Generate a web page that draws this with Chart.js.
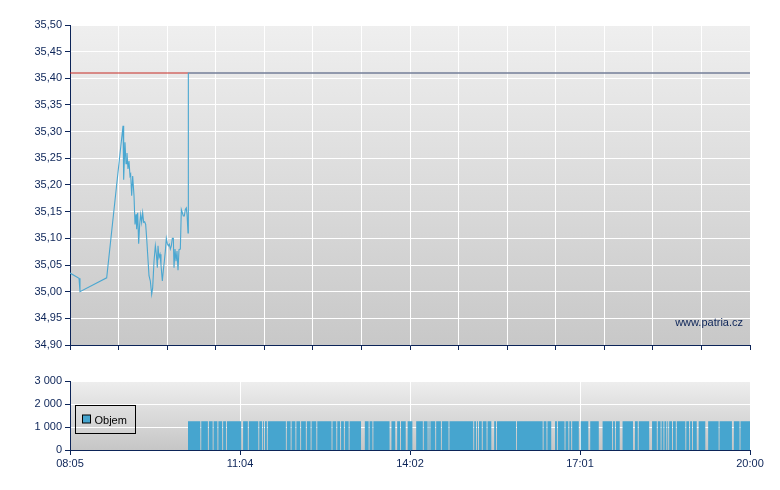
<!DOCTYPE html>
<html>
<head>
<meta charset="utf-8">
<script src="https://cdn.jsdelivr.net/npm/chart.js@4.4.1/dist/chart.umd.min.js"></script>
<style>
body { margin: 0; background: #fff; }
#wrap { position: relative; width: 780px; height: 490px; }
#price { position: absolute; left: 0; top: 0; }
#volume { position: absolute; left: 0; top: 360px; }
</style>
</head>
<body>
<div id="wrap">
<canvas id="price" width="780" height="355"></canvas>
<canvas id="volume" width="780" height="130"></canvas>
</div>
<script>
var dayStart = "08:05";
var dayEnd = "20:00";
var timeLabels = ["08:05", "11:04", "14:02", "17:01", "20:00"];
var priceTicks = [34.90, 34.95, 35.00, 35.05, 35.10, 35.15, 35.20, 35.25, 35.30, 35.35, 35.40, 35.45, 35.50];
var volumeTicks = [0, 1000, 2000, 3000];

var priceTimes = ["08:05:00", "08:14:28", "08:15:30", "08:43:34", "09:00:44", "09:01:26", "09:02:50", "09:03:53",
    "09:04:56", "09:05:59", "09:07:02", "09:08:05", "09:08:47", "09:09:50", "09:10:54", "09:12:18", "09:13:21",
    "09:14:24", "09:15:06", "09:16:09", "09:17:12", "09:18:15", "09:19:18", "09:20:21", "09:21:25", "09:22:28",
    "09:23:31", "09:24:34", "09:25:37", "09:26:40", "09:28:04", "09:29:28", "09:30:52", "09:31:55", "09:33:20",
    "09:34:44", "09:35:47", "09:36:50", "09:37:32", "09:38:35", "09:39:38", "09:40:41", "09:42:05", "09:43:08",
    "09:44:11", "09:45:14", "09:46:17", "09:47:21", "09:48:24", "09:49:27", "09:50:30", "09:51:33", "09:52:36",
    "09:53:40", "09:54:22", "09:55:25", "09:56:28", "09:57:31", "09:58:34", "09:59:37", "10:01:01", "10:02:04",
    "10:03:07", "10:04:10", "10:05:13", "10:06:16", "10:07:19", "10:08:02", "10:09:05", "10:09:26", "20:00:00"];
var priceValues = [35.035, 35.025, 35.000, 35.026, 35.311, 35.210, 35.280, 35.240,
    35.260, 35.230, 35.245, 35.217, 35.220, 35.180, 35.217, 35.180, 35.126,
    35.145, 35.117, 35.148, 35.090, 35.126, 35.145, 35.130, 35.148, 35.130,
    35.131, 35.126, 35.100, 35.070, 35.030, 35.020, 34.995, 35.007, 35.057,
    35.086, 35.070, 35.045, 35.086, 35.064, 35.070, 35.050, 35.020, 35.040,
    35.057, 35.076, 35.100, 35.090, 35.086, 35.089, 35.080, 35.086, 35.100,
    35.100, 35.045, 35.080, 35.057, 35.076, 35.040, 35.079, 35.080, 35.154,
    35.148, 35.142, 35.142, 35.154, 35.157, 35.145, 35.110, 35.410, 35.410];

var prevCloseTimes = ["08:05", "20:00"];
var prevCloseValues = [35.41, 35.41];

var volumeStart = "10:09";
var volumeEnd = "20:00";
var volumeLevel = 1250;
var volumeGapFrom = ["10:22", "10:30", "10:35", "10:40", "10:45", "10:49", "11:05", "11:12", "11:23", "11:27",
    "11:29", "11:32", "11:52", "11:57", "12:02", "12:07", "12:13", "12:18", "12:24", "12:40", "12:45", "12:49",
    "12:53", "12:58", "13:11", "13:19", "13:23", "13:41", "13:47", "13:52", "13:58", "14:05", "14:16", "14:21",
    "14:23", "14:29", "14:35", "14:43", "15:09", "15:12", "15:14", "15:18", "15:23", "15:28", "15:33", "15:54",
    "16:22", "16:26", "16:31", "16:37", "16:45", "16:49", "16:52", "17:00", "17:10", "17:21", "17:35", "17:38",
    "17:43", "17:57", "18:02", "18:14", "18:22", "18:26", "18:29", "18:32", "18:34", "18:38", "18:42", "18:52",
    "18:56", "18:59", "19:04", "19:13", "19:27", "19:41", "19:49"];
var volumeGapTo = ["10:23", "10:31", "10:36", "10:41", "10:46", "10:50", "11:07", "11:13", "11:24", "11:28",
    "11:30", "11:33", "11:53", "11:58", "12:03", "12:08", "12:14", "12:19", "12:25", "12:41", "12:46", "12:50",
    "12:54", "12:59", "13:15", "13:20", "13:24", "13:43", "13:49", "13:53", "14:00", "14:09", "14:17", "14:22",
    "14:24", "14:30", "14:36", "14:44", "15:10", "15:13", "15:15", "15:19", "15:24", "15:31", "15:34", "15:55",
    "16:23", "16:27", "16:35", "16:38", "16:46", "16:50", "16:53", "17:02", "17:12", "17:25", "17:36", "17:39",
    "17:46", "17:59", "18:03", "18:17", "18:23", "18:27", "18:30", "18:33", "18:35", "18:39", "18:43", "18:53",
    "18:57", "19:00", "19:06", "19:16", "19:28", "19:43", "19:50"];

var NAVY = "#0c2458";
var FONT = { family: "'Liberation Sans', Arial, sans-serif", size: 11 };

function toMin(s) {
    var p = s.split(":");
    var m = parseInt(p[0], 10) * 60 + parseInt(p[1], 10) + (p[2] ? parseInt(p[2], 10) / 60 : 0);
    var b = dayStart.split(":");
    return m - (parseInt(b[0], 10) * 60 + parseInt(b[1], 10));
}
var span = toMin(dayEnd);

function plotBackground(top, bottom) {
    return {
        id: "plotBackground",
        beforeDraw: function(chart) {
            var a = chart.chartArea, ctx = chart.ctx;
            var g = ctx.createLinearGradient(0, a.top, 0, a.bottom);
            g.addColorStop(0, top);
            g.addColorStop(1, bottom);
            ctx.save();
            ctx.fillStyle = g;
            ctx.fillRect(a.left, a.top, a.right - a.left, a.bottom - a.top);
            ctx.restore();
        }
    };
}

var watermark = {
    id: "watermark",
    afterDraw: function(chart) {
        var ctx = chart.ctx, a = chart.chartArea;
        ctx.save();
        ctx.font = "11px " + FONT.family;
        ctx.fillStyle = NAVY;
        ctx.textAlign = "right";
        ctx.textBaseline = "alphabetic";
        ctx.fillText("www.patria.cz", a.right - 7, a.bottom - 19);
        ctx.restore();
    }
};

var boxLegend = {
    id: "boxLegend",
    afterDraw: function(chart) {
        var ctx = chart.ctx, a = chart.chartArea, ds = chart.data.datasets[0];
        var x = a.left + 5.5, y = 45.5;
        ctx.save();
        ctx.strokeStyle = "#000";
        ctx.lineWidth = 1;
        ctx.strokeRect(x, y, 60, 28);
        ctx.fillStyle = ds.backgroundColor;
        ctx.fillRect(x + 7, y + 9.5, 8, 8);
        ctx.strokeRect(x + 7, y + 9.5, 8, 8);
        ctx.font = "11px " + FONT.family;
        ctx.fillStyle = "#000";
        ctx.textBaseline = "alphabetic";
        ctx.fillText(ds.label, x + 19, y + 18);
        ctx.restore();
    }
};

function pairs(times, values) {
    return times.map(function(t, i) { return { x: toMin(t), y: values[i] }; });
}

var volumePoints = [{ x: toMin(volumeStart), y: volumeLevel }];
volumeGapFrom.forEach(function(t, i) {
    volumePoints.push({ x: toMin(t), y: 0 });
    volumePoints.push({ x: toMin(volumeGapTo[i]), y: volumeLevel });
});
volumePoints.push({ x: toMin(volumeEnd), y: volumeLevel });

function yAxis(ticks, fmt) {
    return {
        min: ticks[0],
        max: ticks[ticks.length - 1],
        afterBuildTicks: function(scale) {
            scale.ticks = ticks.map(function(v) { return { value: v }; });
        },
        afterFit: function(scale) { scale.width = 70; },
        border: { color: NAVY, width: 1 },
        grid: { color: "#ffffff", lineWidth: 1, tickColor: NAVY, tickLength: 5 },
        ticks: { color: NAVY, font: FONT, padding: 3, callback: fmt }
    };
}

function xAxis(count, showLabels, height) {
    return {
        type: "linear",
        min: 0,
        max: span,
        afterBuildTicks: function(scale) {
            var t = [];
            for (var i = 0; i <= count; i++) t.push({ value: span * i / count });
            scale.ticks = t;
        },
        afterFit: function(scale) { scale.height = height; },
        border: { color: NAVY, width: 1 },
        grid: { color: "#ffffff", lineWidth: 1, tickColor: NAVY, tickLength: 5 },
        ticks: {
            display: showLabels,
            color: NAVY,
            font: FONT,
            padding: 2,
            autoSkip: false,
            maxRotation: 0,
            callback: function(v, i) { return showLabels ? timeLabels[i] : " "; }
        }
    };
}

new Chart(document.getElementById("price"), {
    type: "line",
    data: {
        datasets: [
            {
                label: "Kurz",
                data: pairs(priceTimes, priceValues),
                borderColor: "#4aa7d1",
                borderWidth: 1.1,
                pointRadius: 0,
                tension: 0,
                order: 1
            },
            {
                label: "Předchozí závěr",
                data: pairs(prevCloseTimes, prevCloseValues),
                borderColor: "#c62a24",
                borderWidth: 1,
                pointRadius: 0,
                order: 2
            }
        ]
    },
    options: {
        responsive: false,
        animation: false,
        devicePixelRatio: 1,
        layout: { padding: { top: 25, right: 30, left: 0, bottom: 0 } },
        plugins: { legend: { display: false }, tooltip: { enabled: false } },
        scales: {
            x: xAxis(14, false, 10),
            y: yAxis(priceTicks, function(v) { return v.toFixed(2).replace(".", ","); })
        }
    },
    plugins: [plotBackground("#efefef", "#c8c8c8"), watermark]
});

new Chart(document.getElementById("volume"), {
    type: "line",
    data: {
        datasets: [
            {
                label: "Objem",
                data: volumePoints,
                stepped: true,
                fill: "origin",
                backgroundColor: "#46a5cf",
                borderWidth: 0,
                pointRadius: 0
            }
        ]
    },
    options: {
        responsive: false,
        animation: false,
        devicePixelRatio: 1,
        layout: { padding: { top: 21, right: 30, left: 0, bottom: 0 } },
        plugins: { legend: { display: false }, tooltip: { enabled: false } },
        scales: {
            x: xAxis(4, true, 40),
            y: yAxis(volumeTicks, function(v) { return String(v).replace(/\B(?=(\d{3})+(?!\d))/g, " "); })
        }
    },
    plugins: [plotBackground("#eeeeee", "#c6c6c6"), boxLegend]
});
</script>
</body>
</html>
